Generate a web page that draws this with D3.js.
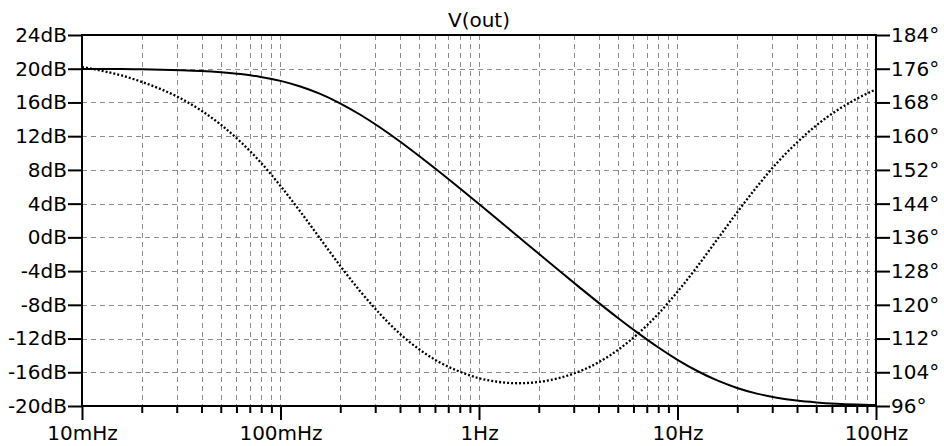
<!DOCTYPE html>
<html>
<head>
<meta charset="utf-8">
<script src="https://cdn.jsdelivr.net/npm/d3@7"></script>
<style>
  body { margin: 0; background: #fff; }
  svg { display: block; }
  text { font-family: "DejaVu Sans", Verdana, sans-serif; font-size: 20px; fill: #000; }
</style>
</head>
<body>
<svg id="chart" width="944" height="446"></svg>
<script>
// frequency points (Hz), read at 1/10 decade steps
const freqs = [0.01, 0.012589, 0.015849, 0.019953, 0.025119, 0.031623, 0.039811, 0.050119, 0.063096, 0.079433,
  0.1, 0.12589, 0.15849, 0.19953, 0.25119, 0.31623, 0.39811, 0.50119, 0.63096, 0.79433,
  1, 1.2589, 1.5849, 1.9953, 2.5119, 3.1623, 3.9811, 5.0119, 6.3096, 7.9433,
  10, 12.589, 15.849, 19.953, 25.119, 31.623, 39.811, 50.119, 63.096, 79.433, 100]

// magnitude, dB (solid)
const magDb = [19.98, 19.97, 19.96, 19.93, 19.89, 19.83, 19.74, 19.59, 19.37, 19.03,
  18.56, 17.89, 17.01, 15.90, 14.57, 13.06, 11.40, 9.62, 7.78, 5.88,
  3.95, 2.00, 0.04, -1.92, -3.87, -5.81, -7.71, -9.56, -11.33, -13.00,
  -14.52, -15.85, -16.97, -17.86, -18.53, -19.02, -19.36, -19.58, -19.73, -19.83, -19.89]

// phase, degrees (dotted)
const phaseDeg = [176.4, 175.5, 174.4, 172.9, 171.1, 168.9, 166.1, 162.7, 158.6, 153.8,
  148.2, 142.1, 135.7, 129.3, 123.3, 117.9, 113.2, 109.4, 106.4, 104.2,
  102.6, 101.7, 101.4, 101.7, 102.6, 104.1, 106.3, 109.3, 113.1, 117.7,
  123.1, 129.1, 135.5, 141.9, 148.0, 153.6, 158.4, 162.6, 166.0, 168.8, 171.1]

const dbTicks = [-20, -16, -12, -8, -4, 0, 4, 8, 12, 16, 20, 24]
const degTicks = [96, 104, 112, 120, 128, 136, 144, 152, 160, 168, 176, 184]
const freqTicks = [0.01, 0.1, 1, 10, 100]
const freqLabels = ['10mHz', '100mHz', '1Hz', '10Hz', '100Hz']
const title = 'V(out)'

const plotLeft = 82, plotRight = 876, plotTop = 35, plotBottom = 406

const svg = d3.select('#chart')

const x = d3.scaleLog().domain([0.01, 100]).range([plotLeft, plotRight])
const yL = d3.scaleLinear().domain([-20, 24]).range([plotBottom, plotTop])
const yR = d3.scaleLinear().domain([96, 184]).range([plotBottom, plotTop])

// grid
const grid = svg.append('g')
    .attr('stroke', '#8c8c8c')
    .attr('stroke-width', 1)
    .attr('stroke-dasharray', '5,4')

grid.selectAll('line.h')
    .data(dbTicks.slice(1, -1))
  .enter().append('line')
    .attr('class', 'h')
    .attr('x1', plotLeft).attr('x2', plotRight)
    .attr('y1', d => Math.round(yL(d)) + 0.5)
    .attr('y2', d => Math.round(yL(d)) + 0.5)

grid.selectAll('line.v')
    .data(x.ticks().filter(d => d > 0.01 && d < 100))
  .enter().append('line')
    .attr('class', 'v')
    .attr('x1', d => Math.round(x(d)) + 0.5)
    .attr('x2', d => Math.round(x(d)) + 0.5)
    .attr('y1', plotTop).attr('y2', plotBottom)

// axes
function styleAxis (g) {
  g.select('.domain').remove()
  g.selectAll('.tick line').attr('stroke', '#000').attr('stroke-width', 2)
  g.attr('font-family', null).attr('font-size', null)
}

svg.append('g')
    .attr('transform', 'translate(' + plotLeft + ',0)')
    .call(d3.axisLeft(yL).tickValues(dbTicks).tickFormat(d => d + 'dB').tickSize(14).tickPadding(1).tickSizeOuter(0))
    .call(styleAxis)

svg.append('g')
    .attr('transform', 'translate(' + plotRight + ',0)')
    .call(d3.axisRight(yR).tickValues(degTicks).tickFormat(d => d + '°').tickSize(14).tickPadding(1).tickSizeOuter(0))
    .call(styleAxis)

svg.append('g')
    .attr('transform', 'translate(0,' + plotBottom + ')')
    .call(d3.axisBottom(x).tickValues(x.ticks().filter(d => freqTicks.indexOf(d) < 0)).tickFormat('').tickSize(7).tickSizeOuter(0))
    .call(styleAxis)

svg.append('g')
    .attr('transform', 'translate(0,' + plotBottom + ')')
    .call(d3.axisBottom(x).tickValues(freqTicks).tickFormat((d, i) => freqLabels[i]).tickSize(14).tickPadding(6).tickSizeOuter(0))
    .call(styleAxis)

// frame
svg.append('rect')
    .attr('x', plotLeft).attr('y', plotTop)
    .attr('width', plotRight - plotLeft).attr('height', plotBottom - plotTop)
    .attr('fill', 'none')
    .attr('stroke', '#000')
    .attr('stroke-width', 2)

// traces
const data = freqs.map((f, i) => ({ f: f, m: magDb[i], p: phaseDeg[i] }))

svg.append('path')
    .datum(data)
    .attr('fill', 'none')
    .attr('stroke', '#000')
    .attr('stroke-width', 2)
    .attr('d', d3.line().x(d => x(d.f)).y(d => yL(d.m)).curve(d3.curveMonotoneX))

svg.append('path')
    .datum(data)
    .attr('fill', 'none')
    .attr('stroke', '#000')
    .attr('stroke-width', 2.3)
    .attr('stroke-dasharray', '2,2')
    .attr('d', d3.line().x(d => x(d.f)).y(d => yR(d.p)).curve(d3.curveMonotoneX))

svg.append('text')
    .attr('x', (plotLeft + plotRight) / 2)
    .attr('y', 27)
    .attr('text-anchor', 'middle')
    .text(title)
</script>
</body>
</html>
